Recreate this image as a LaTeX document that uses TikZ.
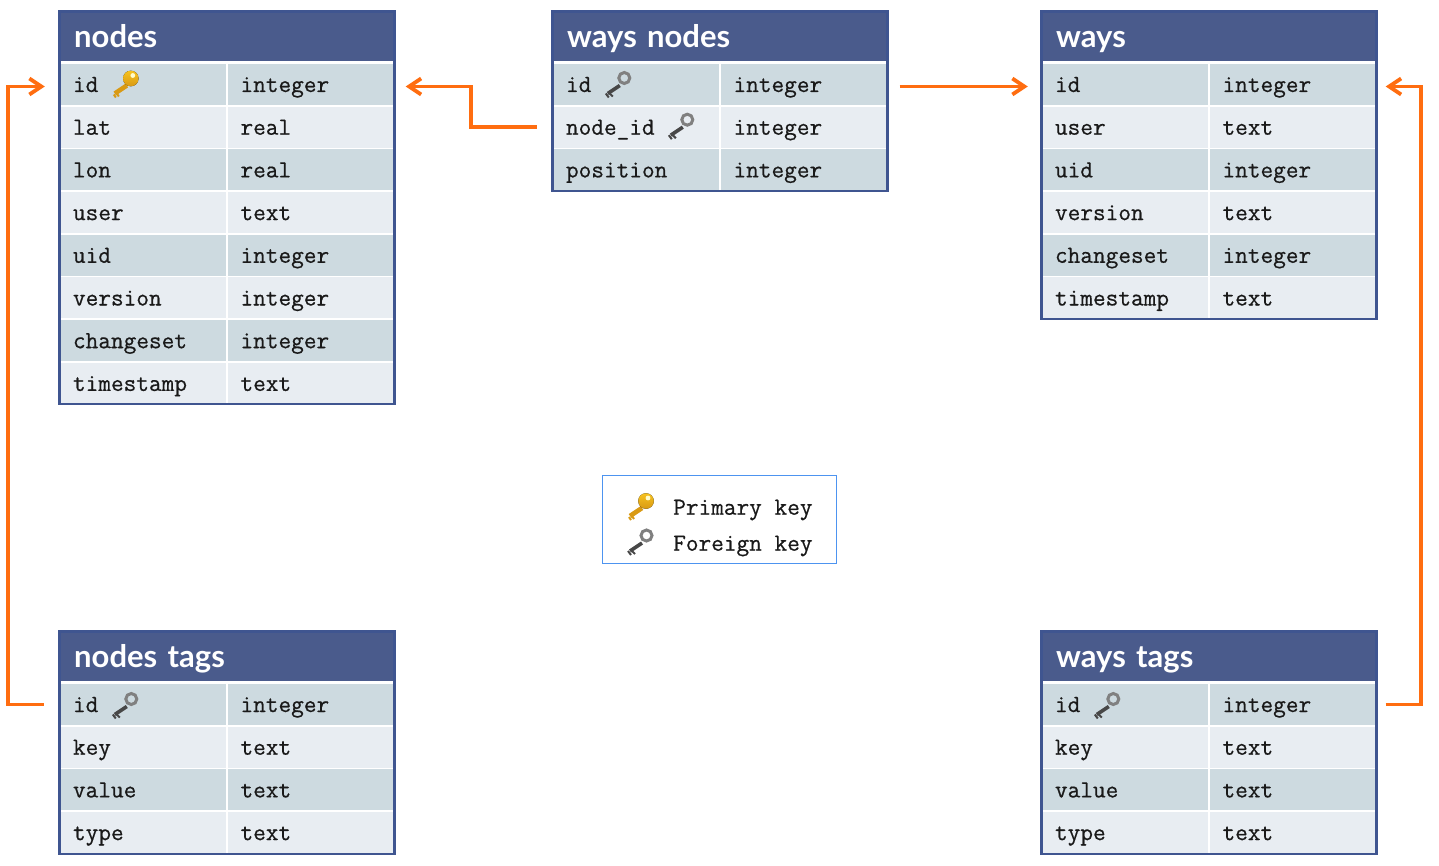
\documentclass[tikz,border=0pt]{standalone}
\usepackage{fontspec}
\usepackage{tikz}
\usetikzlibrary{arrows.meta,positioning}
\setmainfont{Lato}
\newfontfamily\cellfont{Latin Modern Mono}[FakeBold=0.6]

\definecolor{headblue}{HTML}{4A5B8C}
\definecolor{frameblue}{HTML}{3F5590}
\definecolor{rowdark}{HTML}{CDDAE0}
\definecolor{rowlight}{HTML}{E8EDF2}
\definecolor{floworange}{HTML}{FF6D10}
\definecolor{legendblue}{HTML}{4D94F0}
\definecolor{keygold}{HTML}{D99A14}
\definecolor{keyyellow}{HTML}{F6C21F}

\tikzset{
  tablehead/.style={anchor=north west, fill=headblue, text=white, minimum width=335pt, minimum height=49pt,
    inner xsep=14pt, inner ysep=0pt, text width=306pt, align=left, text height=30pt, text depth=7pt,
    font=\fontsize{31}{34}\selectfont\bfseries},
  tablecell/.style={minimum height=41pt, inner xsep=13pt, inner ysep=0pt, text width=140pt, align=left,
    text height=18pt, text depth=3pt, text=black!90, font=\fontsize{24.6}{27}\cellfont},
  legendtext/.style={anchor=west, inner sep=0pt, text=black!90, font=\fontsize{24.6}{27}\cellfont},
  flow/.style={-{Straight Barb[length=12pt,width=16pt]}, line width=3.8pt, floworange},
  pkey/.pic={
    \draw[line width=4.6pt, draw=keygold] (2,3) -- (-10,11);
    \draw[line width=2pt, draw=keygold] (-8,11) -- (-6,14) (-11,12) -- (-9,15);
    \fill[top color=keyyellow, bottom color=keygold] (6,-4) circle (7.8);
    \fill[white!80!yellow] (8,-7) circle (2.4);
  },
  fkey/.pic={
    \draw[line width=3.6pt, draw=black!72] (2,3) -- (-10,11);
    \draw[line width=2pt, draw=black!72] (-8,11) -- (-5,14) (-12,11) -- (-9,15);
    \draw[line width=3pt, draw=black!50] (6.5,-4.5) circle (5.5);
  },
}

% id, left, top, title, rows, frame height
\newcommand{\dbtable}[6]{
  \node[tablehead] (#1-title) at (#2+.5,#3+.5) {#4};
  \foreach \fname/\ftype [count=\i] in {#5} {
    \ifodd\i \def\rowfill{rowdark}\else \def\rowfill{rowlight}\fi
    \pgfmathsetmacro{\ry}{#3+73.5+(\i-1)*42.7}
    \node[tablecell, fill=\rowfill] (#1-\i-a) at (#2+84,\ry) {\fname};
    \node[tablecell, fill=\rowfill] (#1-\i-b) at (#2+251.5,\ry) {\ftype};
  }
  \draw[frameblue, line width=2.2pt] (#2+.5,#3+.5) rectangle ++(335,#6-.5);
}

\begin{document}
\begin{tikzpicture}[x=1pt, y=-1pt, line cap=butt]
  \useasboundingbox (0,0) rectangle (1439,866);

  % tables
  \dbtable{nodes}{59}{11}{nodes}{id/integer, lat/real, lon/real, user/text, uid/integer,
    version/integer, changeset/integer, timestamp/text}{393}
  \dbtable{wn}{552}{11}{ways nodes}{id/integer, node\_id/integer, position/integer}{180}
  \dbtable{ways}{1041}{11}{ways}{id/integer, user/text, uid/integer, version/text,
    changeset/integer, timestamp/text}{308}
  \dbtable{nt}{59}{631}{nodes tags}{id/integer, key/text, value/text, type/text}{223}
  \dbtable{wt}{1041}{631}{ways tags}{id/integer, key/text, value/text, type/text}{223}

  % keys in the rows
  \pic at ([xshift=65pt,yshift=2pt]nodes-1-a.west) {pkey};
  \pic at ([xshift=65pt,yshift=2pt]wn-1-a.west) {fkey};
  \pic at ([xshift=128pt,yshift=3pt]wn-2-a.west) {fkey};
  \pic at ([xshift=65pt,yshift=1pt]nt-1-a.west) {fkey};
  \pic at ([xshift=65pt,yshift=1pt]wt-1-a.west) {fkey};

  % legend
  \node[draw=legendblue, line width=1pt, minimum width=234pt, minimum height=88pt] (legend) at (719,519) {};
  \node[legendtext] (legend-p) at (673,510) {Primary key};
  \node[legendtext] (legend-f) at (673,546) {Foreign key};
  \pic at (640,505) {pkey};
  \pic at (640,540) {fkey};

  % links
  \draw[flow] ([xshift=-16pt]wn-2-a.west) -- ++(-66,0) |- ([xshift=12pt,yshift=-2pt]nodes-1-b.east);
  \draw[flow] ([xshift=13pt,yshift=-2pt]wn-1-b.east) -- ([xshift=-14pt,yshift=-2pt]ways-1-a.west);
  \draw[flow] ([xshift=-16pt]nt-1-a.west) -- ++(-36,0) |- ([xshift=-15pt,yshift=-2pt]nodes-1-a.west);
  \draw[flow] ([xshift=10pt]wt-1-b.east) -- ++(35,0) |- ([xshift=10pt,yshift=-2pt]ways-1-b.east);
\end{tikzpicture}
\end{document}
